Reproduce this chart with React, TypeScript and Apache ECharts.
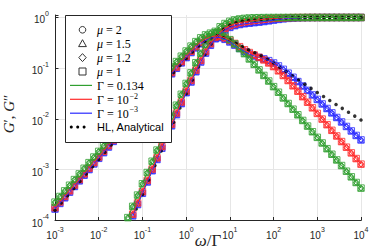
import React, { useEffect, useRef } from 'react';
import * as echarts from 'echarts';

// frequency grid of the simulated data (omega / Gamma)
const omega = [
  1e-3, 1.292e-3, 1.668e-3, 2.154e-3, 2.783e-3, 3.594e-3, 4.642e-3, 5.995e-3, 7.743e-3,
  1e-2, 1.292e-2, 1.668e-2, 2.154e-2, 2.783e-2, 3.594e-2, 4.642e-2, 5.995e-2, 7.743e-2,
  0.1, 0.1292, 0.1668, 0.2154, 0.2783, 0.3594, 0.4642, 0.5995, 0.7743,
  1, 1.292, 1.668, 2.154, 2.783, 3.594, 4.642, 5.995, 7.743,
  10, 12.92, 16.68, 21.54, 27.83, 35.94, 46.42, 59.95, 77.43,
  100, 129.2, 166.8, 215.4, 278.3, 359.4, 464.2, 599.5, 774.3,
  1000, 1292, 1668, 2154, 2783, 3594, 4642, 5995, 7743,
  10000,
];

// Gamma = 0.134 (green)
const gpGreen = [
  null, null, null, null, null, null, null, null, null,
  null, null, null, null, null, null, 1.14e-4, 1.90e-4, 3.17e-4,
  5.29e-4, 8.82e-4, 1.47e-3, 2.44e-3, 4.08e-3, 6.79e-3, 0.0113, 0.0187, 0.0307,
  0.0502, 0.0811, 0.1285, 0.1968, 0.2906, 0.4062, 0.5329, 0.6554, 0.7603,
  0.841, 0.8982, 0.9365, 0.9608, 0.9762, 0.9856, 0.9913, 0.9948, 0.9969,
  0.9981, 0.9989, 0.9993, 0.9996, 0.9998, 0.9999, 1, 1, 1,
  1, 1, 1, 1, 1, 1, 1, 1, 1,
  1,
];
const gppGreen = [
  2.30e-4, 2.97e-4, 3.84e-4, 4.95e-4, 6.40e-4, 8.27e-4, 1.07e-3, 1.38e-3, 1.78e-3,
  2.30e-3, 2.97e-3, 3.84e-3, 4.95e-3, 6.40e-3, 8.27e-3, 1.07e-2, 1.38e-2, 1.78e-2,
  0.023, 0.0297, 0.0383, 0.0494, 0.0637, 0.0821, 0.1056, 0.1353, 0.1726,
  0.2184, 0.2729, 0.3346, 0.3976, 0.454, 0.4911, 0.4989, 0.4753, 0.4269,
  0.3657, 0.3024, 0.2438, 0.1941, 0.1525, 0.1192, 0.0928, 0.0721, 0.056,
  0.0434, 0.0337, 0.026, 0.0202, 0.0156, 0.0121, 0.00936, 0.00725, 0.00561,
  0.00435, 0.00337, 0.0026, 0.00202, 0.00156, 0.00121, 9.36e-4, 7.25e-4, 5.61e-4,
  4.35e-4,
];

// Gamma = 1e-2 (red)
const gpRed = [
  null, null, null, null, null, null, null, null, null,
  null, null, null, null, null, null, null, 1.33e-4, 2.22e-4,
  3.71e-4, 6.18e-4, 1.031e-3, 1.717e-3, 2.862e-3, 4.763e-3, 7.92e-3, 0.01313, 0.02167,
  0.03552, 0.05768, 0.09196, 0.1429, 0.2143, 0.3055, 0.4104, 0.5169, 0.6125,
  0.6898, 0.7478, 0.7899, 0.8218, 0.8482, 0.8727, 0.897, 0.9208, 0.9425,
  0.9604, 0.9739, 0.9833, 0.9896, 0.9936, 0.9961, 0.9976, 0.9986, 0.9992,
  0.9995, 0.9997, 0.9998, 0.9999, 1, 1, 1, 1, 1,
  1,
];
const gppRed = [
  1.79e-4, 2.32e-4, 2.99e-4, 3.86e-4, 4.99e-4, 6.44e-4, 8.32e-4, 1.075e-3, 1.388e-3,
  1.79e-3, 2.32e-3, 2.99e-3, 3.86e-3, 4.99e-3, 6.44e-3, 8.32e-3, 1.075e-2, 1.388e-2,
  0.01792, 0.02314, 0.02987, 0.03854, 0.04972, 0.06407, 0.08245, 0.1058, 0.1353,
  0.1718, 0.216, 0.2669, 0.3216, 0.3739, 0.4142, 0.4331, 0.4262, 0.3967,
  0.354, 0.3079, 0.2658, 0.231, 0.2037, 0.1824, 0.164, 0.1461, 0.1273,
  0.1078, 0.089, 0.0719, 0.0573, 0.0451, 0.0353, 0.0275, 0.0214, 0.0166,
  0.0129, 0.00996, 0.00772, 0.00598, 0.00463, 0.00359, 0.00278, 0.00215, 0.00166,
  0.00129,
];

// Gamma = 1e-3 (blue)
const gpBlue = [
  null, null, null, null, null, null, null, null, null,
  null, null, null, null, null, null, null, 1.236e-4, 2.062e-4,
  3.438e-4, 5.738e-4, 9.56e-4, 1.592e-3, 2.655e-3, 4.417e-3, 7.342e-3, 0.01217, 0.02009,
  0.03297, 0.05352, 0.08531, 0.1326, 0.1987, 0.2833, 0.3805, 0.4791, 0.5673,
  0.638, 0.6903, 0.7272, 0.7534, 0.7736, 0.7917, 0.8109, 0.8333, 0.8595,
  0.8882, 0.9165, 0.9412, 0.9606, 0.9746, 0.9841, 0.9902, 0.994, 0.9964,
  0.9978, 0.9987, 0.9992, 0.9995, 0.9997, 0.9998, 0.9999, 0.9999, 1,
  1,
];
const gppBlue = [
  1.68e-4, 2.17e-4, 2.80e-4, 3.62e-4, 4.68e-4, 6.04e-4, 7.80e-4, 1.007e-3, 1.301e-3,
  1.68e-3, 2.17e-3, 2.80e-3, 3.62e-3, 4.68e-3, 6.04e-3, 7.80e-3, 1.007e-2, 1.301e-2,
  0.01686, 0.02178, 0.02812, 0.03629, 0.04684, 0.06037, 0.0777, 0.09977, 0.1276,
  0.1621, 0.2038, 0.2518, 0.3034, 0.3526, 0.3903, 0.4075, 0.4001, 0.3712,
  0.3298, 0.2856, 0.2457, 0.2137, 0.1904, 0.1745, 0.1631, 0.1529, 0.1412,
  0.1271, 0.1112, 0.0952, 0.08, 0.0663, 0.0546, 0.0447, 0.0366, 0.0298,
  0.0243, 0.0198, 0.0161, 0.0132, 0.0107, 0.00874, 0.00713, 0.00582, 0.00474,
  0.00387,
];

// HL, analytical (black dots)
const omegaHL = [
  1e-3, 1.3895e-3, 1.9307e-3, 2.6827e-3, 3.7276e-3, 5.1795e-3, 7.1969e-3,
  1e-2, 1.3895e-2, 1.9307e-2, 2.6827e-2, 3.7276e-2, 5.1795e-2, 7.1969e-2,
  0.1, 0.13895, 0.19307, 0.26827, 0.37276, 0.51795, 0.71969,
  1, 1.3895, 1.9307, 2.6827, 3.7276, 5.1795, 7.1969,
  10, 13.895, 19.307, 26.827, 37.276, 51.795, 71.969,
  100, 138.95, 193.07, 268.27, 372.76, 517.95, 719.69,
  1000, 1389.5, 1930.7, 2682.7, 3727.6, 5179.5, 7196.9,
  10000,
];
const gpHL = [
  null, null, null, null, null, null, null,
  null, null, null, null, null, null, 1.683e-4,
  3.249e-4, 6.271e-4, 1.21e-3, 2.333e-3, 4.493e-3, 8.635e-3, 0.01653,
  0.03137, 0.05866, 0.1068, 0.1857, 0.3008, 0.4431, 0.5869,
  0.7058, 0.789, 0.8413, 0.8734, 0.8946, 0.912, 0.9293,
  0.9475, 0.9646, 0.9782, 0.9874, 0.9931, 0.9963, 0.998,
  0.999, 0.9995, 0.9997, 0.9999, 1, 1, 1,
  1,
];
const gppHL = [
  1.6e-4, 2.222e-4, 3.087e-4, 4.29e-4, 5.96e-4, 8.282e-4, 1.151e-3,
  1.599e-3, 2.222e-3, 3.087e-3, 4.29e-3, 5.96e-3, 8.29e-3, 0.01153,
  0.01602, 0.02226, 0.03092, 0.04292, 0.05952, 0.08236, 0.1135,
  0.1551, 0.2087, 0.2731, 0.3413, 0.3972, 0.4217, 0.4062,
  0.362, 0.31, 0.2648, 0.2302, 0.2022, 0.1761, 0.1505,
  0.1263, 0.1048, 0.0864, 0.0711, 0.0586, 0.0484, 0.0401,
  0.0333, 0.0277, 0.0231, 0.0193, 0.0162, 0.0136, 0.0114,
  0.0096,
];

const xRange = [1e-3, 1e4];
const yRange = [1e-4, 1.12];

const muLabels = ['2', '1.5', '1.2', '1'];
const muSymbols = ['circle', 'triangle', 'diamond', 'rect'];
const muSizes = [4.5, 5.5, 5.5, 6.5];
const gammaBase = ['0.134', '10', '10'];
const gammaSup = ['', '−2', '−3'];

const GREEN = '#2f9f2f';
const RED = '#ff2a2a';
const BLUE = '#2a2aff';
const AX = '#262626';

const pairs = (xs: number[], ys: (number | null)[]) =>
  xs.map((x, i) => [x, ys[i]]).filter((p) => p[1] != null);

const powLabel = (v: number) => {
  const e = Math.log10(v);
  const n = Math.round(e);
  if (Math.abs(e - n) > 1e-6) return '';
  return '{b|10}{s|' + n + '}';
};
const tickRich = {
  b: { fontFamily: 'Liberation Sans', fontSize: 10, color: AX, lineHeight: 15, verticalAlign: 'bottom' },
  s: { fontFamily: 'Liberation Sans', fontSize: 7, color: AX, verticalAlign: 'top' },
};

function buildSeries() {
  const groups = [
    { c: BLUE, gp: gpBlue, gpp: gppBlue },
    { c: RED, gp: gpRed, gpp: gppRed },
    { c: GREEN, gp: gpGreen, gpp: gppGreen },
  ];
  const series: any[] = [];
  groups.forEach((g) => {
    [g.gp, g.gpp].forEach((ys) => {
      series.push({
        type: 'line',
        data: pairs(omega, ys),
        symbol: 'none',
        lineStyle: { color: g.c, width: 1 },
        silent: true,
      });
    });
    muSymbols.forEach((sym, si) => {
      [g.gp, g.gpp].forEach((ys) => {
        series.push({
          type: 'scatter',
          data: pairs(omega, ys),
          symbol: sym,
          symbolSize: muSizes[si],
          itemStyle: { color: 'transparent', borderColor: g.c, borderWidth: 1, opacity: 0.8 },
          silent: true,
        });
      });
    });
  });
  [gpHL, gppHL].forEach((ys) => {
    series.push({
      type: 'scatter',
      data: pairs(omegaHL, ys),
      symbol: 'circle',
      symbolSize: 3.5,
      itemStyle: { color: '#000' },
      silent: true,
    });
  });
  return series;
}

function buildLegend() {
  const x0 = 65.5, y0 = 15.5, w = 106, h = 127;
  const rowY = (i: number) => 29.8 + i * 13.9;
  const sx = 82.5;
  const sym = { fill: 'none', stroke: '#333', lineWidth: 1 };
  const serif = 'Liberation Serif';
  const els: any[] = [
    { type: 'rect', shape: { x: x0, y: y0, width: w, height: h }, style: { fill: '#fff', stroke: AX, lineWidth: 1 } },
    { type: 'circle', shape: { cx: sx, cy: rowY(0), r: 3.3 }, style: sym },
    { type: 'polygon', shape: { points: [[sx, rowY(1) - 4], [sx - 3.9, rowY(1) + 2.9], [sx + 3.9, rowY(1) + 2.9]] }, style: sym },
    { type: 'polygon', shape: { points: [[sx, rowY(2) - 4], [sx + 3.7, rowY(2)], [sx, rowY(2) + 4], [sx - 3.7, rowY(2)]] }, style: sym },
    { type: 'rect', shape: { x: sx - 3.5, y: rowY(3) - 3.5, width: 7, height: 7 }, style: sym },
    { type: 'line', shape: { x1: 70, y1: rowY(4), x2: 92, y2: rowY(4) }, style: { stroke: GREEN, lineWidth: 1.2 } },
    { type: 'line', shape: { x1: 70, y1: rowY(5), x2: 92, y2: rowY(5) }, style: { stroke: RED, lineWidth: 1.2 } },
    { type: 'line', shape: { x1: 70, y1: rowY(6), x2: 92, y2: rowY(6) }, style: { stroke: BLUE, lineWidth: 1.2 } },
  ];
  [71.3, 77.7, 84.1].forEach((cx) =>
    els.push({ type: 'circle', shape: { cx, cy: rowY(7), r: 1.5 }, style: { fill: '#000' } })
  );
  const rich = {
    m: { fontFamily: serif, fontSize: 12, fontStyle: 'italic', fill: '#000' },
    a: { fontFamily: serif, fontSize: 12, fill: '#000' },
  };
  muLabels.forEach((m, i) =>
    els.push({
      type: 'text', x: 97, y: rowY(i),
      style: { text: '{m|μ}{a| = ' + m + '}', rich, align: 'left', verticalAlign: 'middle' },
    })
  );
  gammaBase.forEach((g, i) => {
    els.push({
      type: 'text', x: 97, y: rowY(4 + i) + 0.5,
      style: { text: 'Γ = ' + g, fontFamily: serif, fontSize: 12, fill: '#000', align: 'left', verticalAlign: 'middle' },
    });
    if (gammaSup[i]) {
      els.push({
        type: 'text', x: 129.5, y: rowY(4 + i) - 3.3,
        style: { text: gammaSup[i], fontFamily: serif, fontSize: 8, fill: '#000', align: 'left', verticalAlign: 'middle' },
      });
    }
  });
  els.push({
    type: 'text', x: 97, y: rowY(7),
    style: { text: 'HL, Analytical', fontFamily: 'Liberation Sans', fontSize: 11, fill: '#000', align: 'left', verticalAlign: 'middle' },
  });
  els.forEach((e) => { e.z = 100; });
  return { type: 'group', z: 100, children: els };
}

export default function App() {
  const ref = useRef<HTMLDivElement>(null);
  useEffect(() => {
    document.body.style.margin = '0';
    const chart = echarts.init(ref.current!, null, { renderer: 'svg' });
    chart.setOption({
      animation: false,
      backgroundColor: '#fff',
      grid: { left: 55, right: 13, top: 15, bottom: 28.5, containLabel: false, outerBoundsMode: 'none' },
      xAxis: {
        type: 'log', logBase: 10, min: xRange[0], max: xRange[1],
        name: '{i|ω}/Γ', nameLocation: 'middle', nameGap: 11, nameMoveOverlap: false,
        nameTextStyle: {
          fontFamily: 'Liberation Serif', fontSize: 17, color: AX,
          rich: { i: { fontFamily: 'Liberation Serif', fontSize: 17, fontStyle: 'italic', color: AX } },
        },
        axisLine: { onZero: false, lineStyle: { color: AX, width: 1 } },
        axisTick: { inside: true, length: 3.5, lineStyle: { color: AX } },
        axisLabel: { formatter: powLabel, rich: tickRich, margin: 5 },
        splitLine: { show: true, lineStyle: { color: '#e6e6e6', width: 1 } },
      },
      yAxis: {
        type: 'log', logBase: 10, min: yRange[0], max: yRange[1],
        axisLine: { onZero: false, lineStyle: { color: AX, width: 1 } },
        axisTick: { inside: true, length: 3.5, lineStyle: { color: AX } },
        axisLabel: { formatter: powLabel, rich: tickRich, margin: 6 },
        splitLine: { show: true, showMaxLine: false, lineStyle: { color: '#e6e6e6', width: 1 } },
      },
      graphic: {
        elements: [
          buildLegend(),
          {
            type: 'text', x: 9, y: 114, rotation: Math.PI / 2, z: 100,
            style: {
              text: '{i|G}′, {i|G}″', align: 'center', verticalAlign: 'middle',
              fontFamily: 'Liberation Serif', fontSize: 15, fill: AX,
              rich: { i: { fontFamily: 'Liberation Serif', fontSize: 15, fontStyle: 'italic', fill: AX } },
            },
          },
        ],
      },
      series: buildSeries(),
    });
    return () => chart.dispose();
  }, []);
  return <div ref={ref} style={{ width: 374, height: 249 }} />;
}
